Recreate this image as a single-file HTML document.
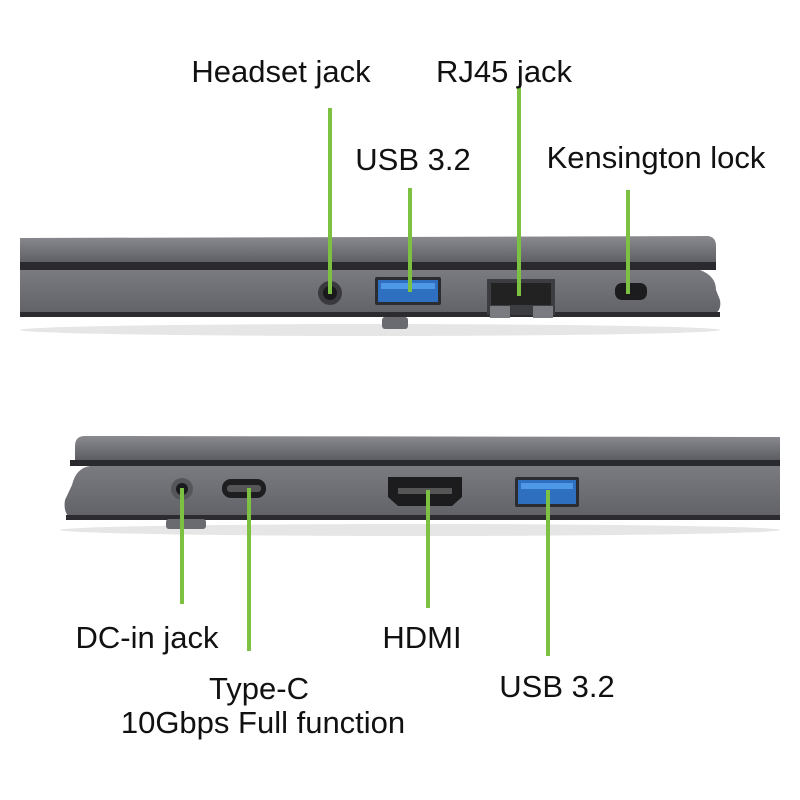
<!DOCTYPE html><html><head><style>
body{margin:0;width:800px;height:800px;background:#fff;position:relative;overflow:hidden;font-family:"Liberation Sans",sans-serif}
.t{position:absolute;font-size:31px;color:#111;white-space:nowrap;transform:translateX(-50%);line-height:1}
.g{position:absolute;width:4px;background:#7cc142}
</style></head><body>
<svg width="800" height="800" style="position:absolute;left:0;top:0">
<defs>
<linearGradient id="lid" x1="0" y1="0" x2="0" y2="1"><stop offset="0" stop-color="#8a8b90"/><stop offset="1" stop-color="#5c5d62"/></linearGradient>
<linearGradient id="base" x1="0" y1="0" x2="0" y2="1"><stop offset="0" stop-color="#7a7b80"/><stop offset="1" stop-color="#606166"/></linearGradient>
</defs>
<!-- top laptop -->
<ellipse cx="370" cy="330" rx="350" ry="6" fill="#e6e6e6"/>
<path d="M20 238 L708 236 Q716 237 716 246 L716 262 L20 264Z" fill="url(#lid)"/>
<rect x="20" y="262" width="696" height="8" fill="#2a2a2e"/>
<path d="M20 270 L700 270 Q716 276 716 290 L720 300 Q722 312 712 315 L20 316Z" fill="url(#base)"/>
<rect x="20" y="312" width="700" height="5" fill="#2c2c30"/>
<rect x="382" y="317" width="26" height="12" rx="3" fill="#6a6b70"/>
<circle cx="330" cy="293" r="12" fill="#3a3a3e"/><circle cx="330" cy="293" r="7" fill="#1a1a1c"/>
<rect x="375" y="277" width="66" height="28" rx="2" fill="#2b2c30"/><rect x="378" y="280" width="60" height="22" fill="#2f6fc0"/><rect x="381" y="283" width="54" height="6" fill="#4f98e8"/>
<rect x="487" y="279" width="68" height="36" fill="#3c3d41"/><rect x="491" y="283" width="60" height="22" fill="#222"/>
<rect x="490" y="306" width="20" height="12" fill="#7a7b80"/><rect x="533" y="306" width="20" height="12" fill="#7a7b80"/>
<rect x="615" y="283" width="32" height="17" rx="7" fill="#1c1c1e"/>
<!-- bottom laptop -->
<ellipse cx="420" cy="530" rx="360" ry="6" fill="#e6e6e6"/>
<path d="M85 436 L780 437 L780 460 L75 460 L75 446 Q75 436 85 436Z" fill="url(#lid)"/>
<rect x="70" y="460" width="710" height="6" fill="#2a2a2e"/>
<path d="M90 466 L780 466 L780 520 L70 518 Q63 512 65 500 L72 485 Q76 468 90 466Z" fill="url(#base)"/>
<rect x="66" y="515" width="714" height="5" fill="#2c2c30"/>
<rect x="166" y="519" width="40" height="10" rx="3" fill="#6a6b70"/>
<circle cx="182" cy="489" r="11" fill="#55565a"/><circle cx="182" cy="489" r="6" fill="#1a1a1c"/>
<rect x="222" y="479" width="44" height="19" rx="9" fill="#1e1e20"/><rect x="227" y="485" width="34" height="7" rx="3" fill="#555"/>
<path d="M388 477 L462 477 L462 497 L452 506 L398 506 L388 497Z" fill="#1c1c1e"/><rect x="398" y="488" width="54" height="6" fill="#555"/>
<rect x="515" y="477" width="64" height="30" rx="2" fill="#2b2c30"/><rect x="518" y="480" width="58" height="24" fill="#2f6fc0"/><rect x="521" y="483" width="52" height="6" fill="#4f98e8"/>
</svg>
<div class="g" style="left:328px;top:108px;height:186px"></div>
<div class="g" style="left:408px;top:188px;height:104px"></div>
<div class="g" style="left:517px;top:86px;height:210px"></div>
<div class="g" style="left:626px;top:190px;height:104px"></div>
<div class="g" style="left:180px;top:488px;height:116px"></div>
<div class="g" style="left:247px;top:488px;height:163px"></div>
<div class="g" style="left:426px;top:490px;height:118px"></div>
<div class="g" style="left:546px;top:490px;height:166px"></div>
<div class="t" style="left:281px;top:56px">Headset jack</div>
<div class="t" style="left:504px;top:56px">RJ45 jack</div>
<div class="t" style="left:413px;top:144px">USB 3.2</div>
<div class="t" style="left:656px;top:142px">Kensington lock</div>
<div class="t" style="left:147px;top:622px">DC-in jack</div>
<div class="t" style="left:422px;top:622px">HDMI</div>
<div class="t" style="left:259px;top:673px">Type-C</div>
<div class="t" style="left:263px;top:707px">10Gbps Full function</div>
<div class="t" style="left:557px;top:671px">USB 3.2</div>
</body></html>
